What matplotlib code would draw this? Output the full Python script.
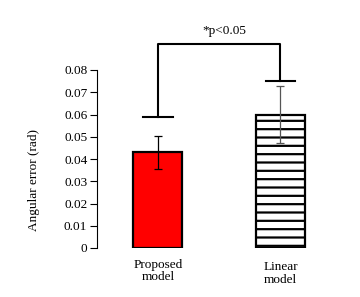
import matplotlib
matplotlib.use("Agg")
import matplotlib.pyplot as plt

# ── data ──────────────────────────────────────────────────────────────────────
models = ["Proposed\nmodel", "Linear\nmodel"]
means = [0.043, 0.060]
errs = [0.0075, 0.0128]
yticks = [0, 0.01, 0.02, 0.03, 0.04, 0.05, 0.06, 0.07, 0.08]
sig_text = "*p<0.05"
bracket_top = 0.0917
bracket_ends = [0.0589, 0.0751]

plt.rcParams["font.family"] = ["Liberation Serif", "DejaVu Serif"]
plt.rcParams["hatch.linewidth"] = 1.6

FS = 9.5

fig = plt.figure(figsize=(3.6, 2.97), dpi=100)
ax = fig.add_axes([97 / 360, 1 - 248 / 297, 243 / 360, 222.5 / 297])

x = [0, 1]
ax.bar(x[0], means[0], width=0.4, color="#ff0000", edgecolor="black", linewidth=1.6, zorder=2)
ax.bar(x[1], means[1], width=0.4, color="white", edgecolor="black", linewidth=1.6,
       hatch="--", zorder=2)
ax.errorbar(x[0], means[0], yerr=errs[0], fmt="none", ecolor="black", elinewidth=0.9,
            capsize=3.2, capthick=0.9, zorder=3)
ax.errorbar(x[1], means[1], yerr=errs[1], fmt="none", ecolor="#555555", elinewidth=0.9,
            capsize=3.2, capthick=0.9, zorder=3)

# significance bracket
ax.plot([x[0], x[0], x[1], x[1]], [bracket_ends[0], bracket_top, bracket_top, bracket_ends[1]],
        color="black", lw=1.5, zorder=4)
for xi, yi in zip(x, bracket_ends):
    ax.plot([xi - 0.12, xi + 0.12], [yi, yi], color="black", lw=1.5, zorder=4)
ax.text(0.54, bracket_top + 0.003, sig_text, ha="center", va="bottom", fontsize=FS)

ax.set_xlim(-0.498, 1.486)
ax.set_ylim(0, 0.1)
ax.set_yticks(yticks)
ax.set_yticklabels(["0" if v == 0 else f"{v:.2f}" for v in yticks], fontsize=FS)
ax.spines["left"].set_bounds(0, 0.08)
for s in ("top", "right", "bottom"):
    ax.spines[s].set_visible(False)
ax.tick_params(axis="y", direction="out", length=5, width=0.8, pad=2)
ax.set_xticks([])
ax.set_ylabel("Angular error (rad)", fontsize=FS)
ax.yaxis.set_label_coords(-0.235, 0.305)

ax.text(x[0], -0.005, models[0], ha="center", va="top", fontsize=FS, linespacing=1.0)
ax.text(x[1], -0.006, models[1], ha="center", va="top", fontsize=FS, linespacing=1.1)

fig.savefig("out.png", dpi=100)
